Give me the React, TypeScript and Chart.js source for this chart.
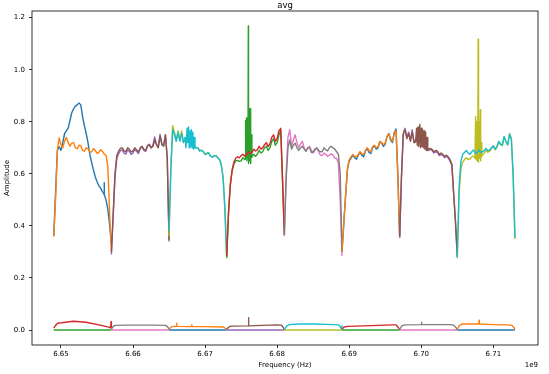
import React, { useEffect, useRef } from "react";
import { Chart, registerables } from "chart.js";

Chart.register(...registerables);

// ---------- data ----------
const WINDOW_START_MHZ = [6649, 6657, 6665, 6673, 6681, 6689, 6697, 6705];
const GRID_MHZ = [0, 0.25, 0.5, 0.75, 1, 1.25, 1.5, 1.75, 2, 2.25, 2.5, 2.75, 3, 3.25, 3.5, 3.75, 4, 4.25, 4.5, 4.75, 5, 5.25, 5.5, 5.75, 6, 6.25, 6.5, 6.75, 7, 7.25, 7.5, 7.75, 8];

const W1_BLUE = [0.36, 0.53, 0.69, 0.705, 0.69, 0.72, 0.755, 0.765, 0.776, 0.805, 0.835, 0.85, 0.86, 0.865, 0.872, 0.865, 0.82, 0.785, 0.755, 0.72, 0.675, 0.645, 0.615, 0.59, 0.57, 0.555, 0.545, 0.532, 0.522, 0.5, 0.465, 0.405, 0.33];
const W1_ORANGE = [0.36, 0.5, 0.69, 0.738, 0.712, 0.7, 0.725, 0.74, 0.72, 0.706, 0.718, 0.72, 0.7, 0.697, 0.71, 0.708, 0.69, 0.687, 0.7, 0.697, 0.685, 0.684, 0.697, 0.69, 0.679, 0.682, 0.693, 0.686, 0.676, 0.672, 0.63, 0.45, 0.3];
const W2_PURPLE = [0.29, 0.44, 0.59, 0.66, 0.678, 0.688, 0.692, 0.68, 0.676, 0.692, 0.686, 0.675, 0.68, 0.694, 0.686, 0.678, 0.696, 0.704, 0.69, 0.686, 0.706, 0.714, 0.7, 0.708, 0.742, 0.714, 0.703, 0.752, 0.716, 0.71, 0.75, 0.66, 0.34];
const W2_BROWN = [0.3, 0.45, 0.6, 0.67, 0.687, 0.698, 0.7, 0.688, 0.685, 0.7, 0.694, 0.684, 0.688, 0.7, 0.692, 0.684, 0.7, 0.706, 0.694, 0.69, 0.708, 0.712, 0.7, 0.705, 0.73, 0.712, 0.7, 0.745, 0.712, 0.706, 0.75, 0.66, 0.345];
const W3_OLIVE = [0.36, 0.62, 0.785, 0.76, 0.73, 0.765, 0.73, 0.765, 0.72, 0.735, 0.72, 0.73, 0.715, 0.725, 0.705, 0.7, 0.7, 0.69, 0.692, 0.686, 0.676, 0.68, 0.682, 0.668, 0.665, 0.67, 0.671, 0.662, 0.655, 0.635, 0.585, 0.46, 0.275];
const W3_CYAN = [0.38, 0.62, 0.77, 0.75, 0.725, 0.76, 0.725, 0.755, 0.72, 0.74, 0.73, 0.74, 0.72, 0.735, 0.71, 0.7, 0.7, 0.687, 0.69, 0.685, 0.674, 0.678, 0.68, 0.668, 0.664, 0.668, 0.67, 0.662, 0.655, 0.635, 0.585, 0.47, 0.28];
const W4_GREEN = [0.28, 0.45, 0.555, 0.61, 0.638, 0.65, 0.652, 0.648, 0.65, 0.662, 0.655, 0.66, 0.665, 0.66, 0.665, 0.675, 0.668, 0.675, 0.69, 0.68, 0.685, 0.7, 0.706, 0.69, 0.7, 0.725, 0.735, 0.71, 0.72, 0.75, 0.765, 0.58, 0.37];
const W4_RED = [0.285, 0.45, 0.56, 0.615, 0.645, 0.66, 0.665, 0.662, 0.67, 0.675, 0.668, 0.675, 0.685, 0.678, 0.682, 0.695, 0.688, 0.692, 0.706, 0.695, 0.7, 0.712, 0.72, 0.705, 0.715, 0.74, 0.75, 0.725, 0.735, 0.765, 0.775, 0.57, 0.365];
const W5_PINK = [0.36, 0.6, 0.74, 0.77, 0.706, 0.73, 0.75, 0.72, 0.7, 0.715, 0.725, 0.7, 0.687, 0.7, 0.706, 0.69, 0.68, 0.69, 0.7, 0.685, 0.672, 0.67, 0.68, 0.675, 0.668, 0.672, 0.677, 0.672, 0.66, 0.66, 0.64, 0.5, 0.285];
const W5_GRAY = [0.365, 0.58, 0.7, 0.73, 0.695, 0.71, 0.718, 0.7, 0.69, 0.7, 0.706, 0.695, 0.687, 0.7, 0.7, 0.682, 0.685, 0.695, 0.7, 0.69, 0.685, 0.685, 0.7, 0.692, 0.688, 0.7, 0.706, 0.7, 0.695, 0.685, 0.675, 0.6, 0.3];
const W6_BLUE = [0.3, 0.41, 0.515, 0.615, 0.65, 0.66, 0.672, 0.662, 0.656, 0.672, 0.683, 0.672, 0.666, 0.687, 0.698, 0.682, 0.678, 0.7, 0.708, 0.695, 0.7, 0.722, 0.718, 0.705, 0.715, 0.742, 0.755, 0.73, 0.72, 0.758, 0.772, 0.6, 0.36];
const W6_ORANGE = [0.3, 0.41, 0.52, 0.62, 0.655, 0.665, 0.674, 0.668, 0.664, 0.675, 0.685, 0.678, 0.674, 0.69, 0.7, 0.69, 0.685, 0.705, 0.71, 0.7, 0.705, 0.725, 0.72, 0.712, 0.72, 0.745, 0.752, 0.735, 0.725, 0.755, 0.765, 0.59, 0.355];
const W7_PURPLE = [0.355, 0.58, 0.75, 0.775, 0.74, 0.76, 0.73, 0.77, 0.72, 0.725, 0.745, 0.73, 0.71, 0.72, 0.73, 0.705, 0.69, 0.695, 0.69, 0.68, 0.685, 0.682, 0.67, 0.675, 0.67, 0.662, 0.668, 0.66, 0.648, 0.632, 0.52, 0.42, 0.278];
const W7_BROWN = [0.36, 0.59, 0.755, 0.77, 0.735, 0.755, 0.725, 0.76, 0.72, 0.73, 0.74, 0.73, 0.715, 0.72, 0.725, 0.705, 0.692, 0.698, 0.694, 0.684, 0.69, 0.687, 0.675, 0.68, 0.675, 0.667, 0.672, 0.665, 0.655, 0.636, 0.525, 0.41, 0.285];
const W8_OLIVE = [0.28, 0.52, 0.62, 0.645, 0.655, 0.662, 0.655, 0.658, 0.665, 0.668, 0.66, 0.665, 0.672, 0.665, 0.672, 0.68, 0.69, 0.683, 0.688, 0.697, 0.705, 0.692, 0.702, 0.72, 0.712, 0.708, 0.742, 0.722, 0.71, 0.755, 0.735, 0.59, 0.35];
const W8_CYAN = [0.28, 0.55, 0.65, 0.675, 0.682, 0.69, 0.68, 0.675, 0.685, 0.692, 0.68, 0.682, 0.692, 0.682, 0.685, 0.69, 0.698, 0.688, 0.692, 0.7, 0.708, 0.695, 0.705, 0.725, 0.715, 0.71, 0.744, 0.725, 0.712, 0.752, 0.735, 0.6, 0.355];

// fine-resolution bursts (MHz offset within window, amplitude)
const W1_BLUE_TICK_X = [6.98, 7.0, 7.02];
const W1_BLUE_TICK_Y = [0.525, 0.566, 0.52];
const W3_CYAN_JITTER_X = [2.2, 2.35, 2.5, 2.6, 2.7, 2.8, 2.9, 3.0, 3.1, 3.2, 3.3, 3.4, 3.5, 3.6, 3.7];
const W3_CYAN_JITTER_Y = [0.74, 0.7, 0.775, 0.72, 0.78, 0.7, 0.765, 0.705, 0.77, 0.7, 0.76, 0.695, 0.74, 0.7, 0.7];
const W4_GREEN_SPIKES_X = [2.5, 2.55, 2.6, 2.65, 2.75, 2.8, 2.9, 2.95, 3.0, 3.03, 3.1, 3.15, 3.2, 3.25, 3.3, 3.35, 3.45, 3.5];
const W4_GREEN_SPIKES_Y = [0.655, 0.66, 0.805, 0.66, 0.815, 0.65, 0.8, 0.66, 1.168, 0.64, 0.85, 0.65, 0.846, 0.66, 0.85, 0.64, 0.75, 0.665];
const W7_BROWN_JITTER_X = [2.2, 2.35, 2.45, 2.55, 2.65, 2.8, 2.9, 3.0, 3.1, 3.2, 3.3, 3.4, 3.5, 3.6, 3.7, 3.8, 3.9, 4.0];
const W7_BROWN_JITTER_Y = [0.72, 0.775, 0.71, 0.78, 0.705, 0.79, 0.7, 0.775, 0.705, 0.77, 0.7, 0.765, 0.695, 0.76, 0.69, 0.74, 0.69, 0.692];
const W8_OLIVE_SPIKES_X = [2.4, 2.45, 2.55, 2.6, 2.7, 2.75, 2.85, 2.9, 2.95, 3.05, 3.1, 3.2, 3.25, 3.35, 3.4];
const W8_OLIVE_SPIKES_Y = [0.665, 0.66, 0.82, 0.655, 0.8, 0.65, 0.75, 1.117, 0.645, 0.8, 0.66, 0.846, 0.65, 0.72, 0.668];

// low-level series
const ZERO_X = [0, 8];
const ZERO_Y = [0, 0];
const W1_RED_X = [0, 0.3, 0.6, 1.1, 2.7, 4.5, 6.4, 7.5, 7.9, 7.95, 8.0];
const W1_RED_Y = [0.007, 0.02, 0.027, 0.028, 0.034, 0.03, 0.019, 0.012, 0.009, 0.032, 0.008];
const W2_GRAY_X = [0, 0.2, 0.5, 2, 4, 6, 7.5, 7.8, 8.0];
const W2_GRAY_Y = [0.004, 0.012, 0.018, 0.019, 0.019, 0.019, 0.018, 0.012, 0.004];
const W3_ORANGE_X = [0, 0.3, 0.6, 1.0, 1.05, 1.1, 3.1, 3.15, 3.2, 5, 7.5, 7.8, 8];
const W3_ORANGE_Y = [0.004, 0.012, 0.014, 0.014, 0.026, 0.014, 0.013, 0.02, 0.013, 0.013, 0.012, 0.007, 0.003];
const W4_BROWN_X = [0, 0.3, 0.7, 3.0, 3.03, 3.06, 5, 7, 7.6, 7.85, 8];
const W4_BROWN_Y = [0.003, 0.012, 0.015, 0.016, 0.047, 0.016, 0.018, 0.02, 0.019, 0.01, 0.001];
const W5_CYAN_X = [0, 0.3, 0.7, 2, 4, 6, 7.5, 7.7, 7.9, 7.95, 8];
const W5_CYAN_Y = [0.002, 0.015, 0.021, 0.023, 0.023, 0.022, 0.02, 0.015, 0.005, 0.017, 0.004];
const W6_RED_X = [0, 0.3, 0.8, 3, 5, 7, 7.5, 7.8, 8];
const W6_RED_Y = [0.004, 0.012, 0.014, 0.016, 0.018, 0.02, 0.02, 0.01, 0.002];
const W7_GRAY_X = [0, 0.3, 0.7, 3.0, 3.03, 3.06, 5, 7, 7.5, 7.8, 8];
const W7_GRAY_Y = [0.003, 0.016, 0.02, 0.021, 0.03, 0.021, 0.021, 0.021, 0.019, 0.01, 0.002];
const W8_ORANGE_X = [0, 0.3, 0.7, 3.0, 3.03, 3.06, 5, 7, 7.6, 7.85, 8];
const W8_ORANGE_Y = [0.003, 0.018, 0.023, 0.023, 0.038, 0.023, 0.021, 0.02, 0.018, 0.01, 0.003];

const X_TICKS = [6.65, 6.66, 6.67, 6.68, 6.69, 6.7, 6.71];
const Y_TICKS = [0, 0.2, 0.4, 0.6, 0.8, 1.0, 1.2];

const COLORS = ["#1f77b4", "#ff7f0e", "#2ca02c", "#d62728", "#9467bd", "#8c564b", "#e377c2", "#7f7f7f", "#bcbd22", "#17becf"];

type Burst = { x: number[]; y: number[] } | null;
const WINDOWS: { a: number[]; b: number[]; aBurst: Burst; bBurst: Burst; lowX: number[]; lowY: number[] }[] = [
  { a: W1_BLUE, b: W1_ORANGE, aBurst: { x: W1_BLUE_TICK_X, y: W1_BLUE_TICK_Y }, bBurst: null, lowX: W1_RED_X, lowY: W1_RED_Y },
  { a: W2_PURPLE, b: W2_BROWN, aBurst: null, bBurst: null, lowX: W2_GRAY_X, lowY: W2_GRAY_Y },
  { a: W3_OLIVE, b: W3_CYAN, aBurst: null, bBurst: { x: W3_CYAN_JITTER_X, y: W3_CYAN_JITTER_Y }, lowX: W3_ORANGE_X, lowY: W3_ORANGE_Y },
  { a: W4_GREEN, b: W4_RED, aBurst: { x: W4_GREEN_SPIKES_X, y: W4_GREEN_SPIKES_Y }, bBurst: null, lowX: W4_BROWN_X, lowY: W4_BROWN_Y },
  { a: W5_PINK, b: W5_GRAY, aBurst: null, bBurst: null, lowX: W5_CYAN_X, lowY: W5_CYAN_Y },
  { a: W6_BLUE, b: W6_ORANGE, aBurst: null, bBurst: null, lowX: W6_RED_X, lowY: W6_RED_Y },
  { a: W7_PURPLE, b: W7_BROWN, aBurst: null, bBurst: { x: W7_BROWN_JITTER_X, y: W7_BROWN_JITTER_Y }, lowX: W7_GRAY_X, lowY: W7_GRAY_Y },
  { a: W8_OLIVE, b: W8_CYAN, aBurst: { x: W8_OLIVE_SPIKES_X, y: W8_OLIVE_SPIKES_Y }, bBurst: null, lowX: W8_ORANGE_X, lowY: W8_ORANGE_Y },
];

const X_MIN = 6.64598;
const X_MAX = 6.7162;
const Y_MIN = -0.0574;
const Y_MAX = 1.2256;

const FONT = "'DejaVu Sans', sans-serif";

const framePlugin = {
  id: "frameAndText",
  afterDraw(chart: any) {
    const { ctx, chartArea } = chart;
    const { left, right, top, bottom } = chartArea;
    ctx.save();
    ctx.strokeStyle = "#000";
    ctx.lineWidth = 0.8;
    ctx.strokeRect(left, top, right - left, bottom - top);
    ctx.fillStyle = "#000";
    ctx.textAlign = "center";
    ctx.textBaseline = "alphabetic";
    ctx.font = `8.5px ${FONT}`;
    ctx.fillText("avg", (left + right) / 2, 7.5);
    ctx.font = `7px ${FONT}`;
    ctx.textBaseline = "middle";
    ctx.fillText("Frequency (Hz)", (left + right) / 2, 365.5);
    ctx.textAlign = "right";
    ctx.fillText("1e9", right, 365.5);
    ctx.translate(7.5, (top + bottom) / 2);
    ctx.rotate(-Math.PI / 2);
    ctx.textAlign = "center";
    ctx.fillText("Amplitude", 0, 0);
    ctx.restore();
  },
};

function App() {
  const ref = useRef<HTMLCanvasElement>(null);
  useEffect(() => {
    if (!ref.current) return;
    const series: { color: string; pts: { x: number; y: number }[] }[][] = [];
    const grid = (w: number, vals: number[]) => vals.map((v, i) => ({ x: (WINDOW_START_MHZ[w] + GRID_MHZ[i]) / 1000, y: v }));
    const pairs = (w: number, xs: number[], ys: number[]) => xs.map((o, i) => ({ x: (WINDOW_START_MHZ[w] + o) / 1000, y: ys[i] }));
    WINDOWS.forEach((win, w) => {
      const c = (k: number) => COLORS[(4 * w + k) % 10];
      const a = [{ color: c(0), pts: grid(w, win.a) }];
      if (win.aBurst) a.push({ color: c(0), pts: pairs(w, win.aBurst.x, win.aBurst.y) });
      const b = [{ color: c(1), pts: grid(w, win.b) }];
      if (win.bBurst) b.push({ color: c(1), pts: pairs(w, win.bBurst.x, win.bBurst.y) });
      series.push(a, b, [{ color: c(2), pts: pairs(w, ZERO_X, ZERO_Y) }], [{ color: c(3), pts: pairs(w, win.lowX, win.lowY) }]);
    });
    const total = series.length;
    const datasets: any[] = [];
    series.forEach((group, idx) => {
      group.forEach((s) => {
        datasets.push({
          data: s.pts,
          borderColor: s.color,
          backgroundColor: s.color,
          borderWidth: 1.4,
          borderJoinStyle: "round",
          pointRadius: 0,
          fill: false,
          tension: 0,
          order: total - idx,
        });
      });
    });
    const tickFont = { family: FONT, size: 7 };
    const chart = new Chart(ref.current, {
      type: "line",
      data: { datasets },
      options: {
        responsive: false,
        animation: false,
        devicePixelRatio: 1,
        layout: { padding: { top: 11, right: 11, left: 0, bottom: 0 } },
        plugins: { legend: { display: false }, tooltip: { enabled: false }, title: { display: false } },
        scales: {
          x: {
            type: "linear",
            min: X_MIN,
            max: X_MAX,
            afterBuildTicks: (s: any) => {
              s.ticks = X_TICKS.map((v) => ({ value: v }));
            },
            afterFit: (s: any) => {
              s.height = 29;
            },
            grid: { display: true, drawOnChartArea: false, drawTicks: true, tickLength: 3, color: "#000", lineWidth: 0.8 },
            border: { display: false },
            ticks: { font: tickFont, color: "#000", padding: 2, maxRotation: 0, autoSkip: false, callback: (v: any) => Number(v).toFixed(2) },
          },
          y: {
            type: "linear",
            min: Y_MIN,
            max: Y_MAX,
            afterBuildTicks: (s: any) => {
              s.ticks = Y_TICKS.map((v) => ({ value: v }));
            },
            afterFit: (s: any) => {
              s.width = 32;
            },
            grid: { display: true, drawOnChartArea: false, drawTicks: true, tickLength: 3, color: "#000", lineWidth: 0.8 },
            border: { display: false },
            ticks: { font: tickFont, color: "#000", padding: 4, autoSkip: false, callback: (v: any) => Number(v).toFixed(1) },
          },
        },
      },
      plugins: [framePlugin],
    });
    return () => chart.destroy();
  }, []);
  return (
    <div style={{ position: "absolute", left: 0, top: 0, width: 549, height: 374, background: "#fff" }}>
      <canvas ref={ref} width={549} height={374} style={{ display: "block" }} />
    </div>
  );
}

export default App;
